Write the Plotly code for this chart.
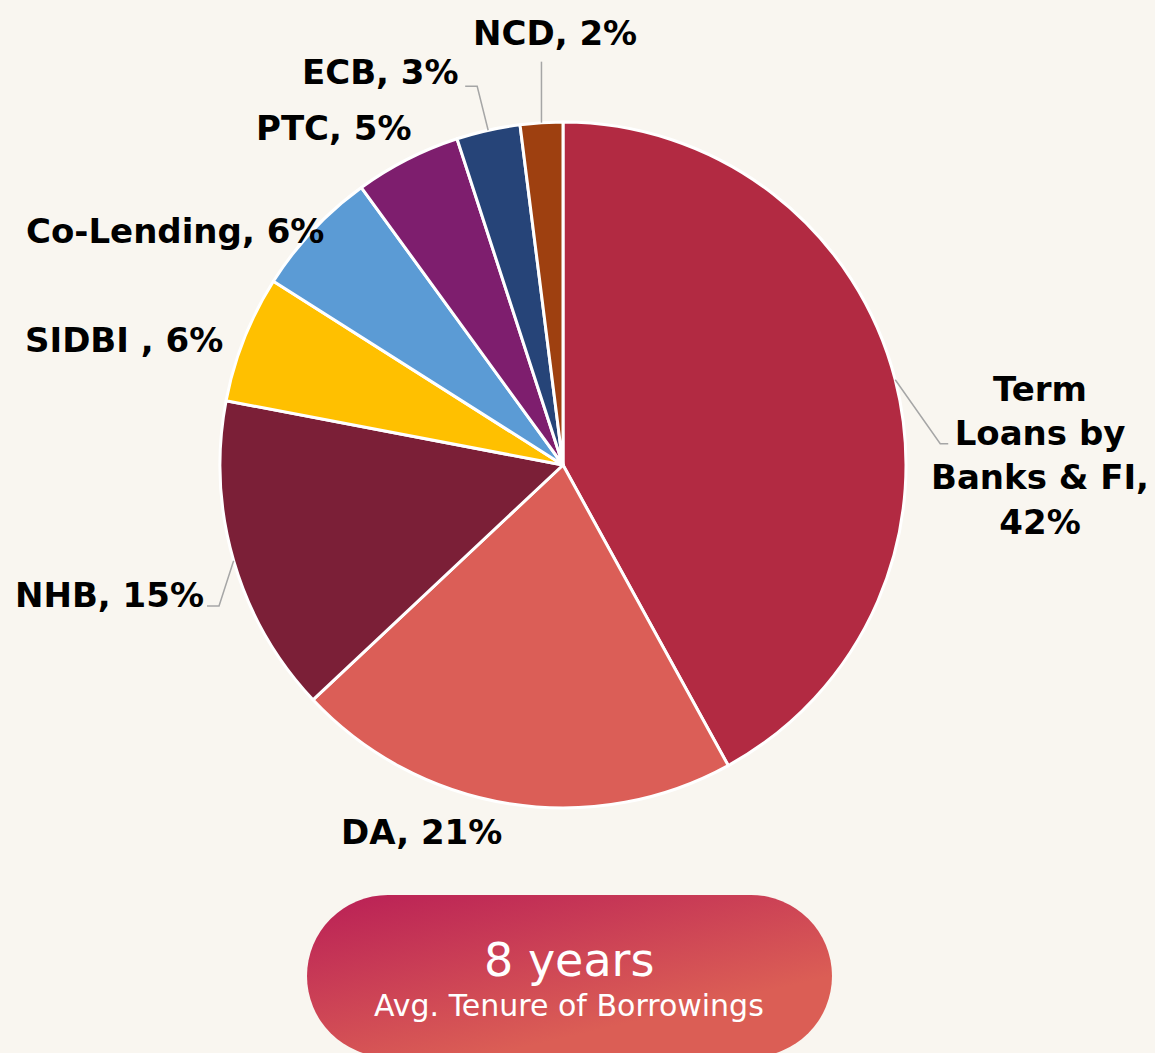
import math
import base64
import plotly.graph_objects as go

# ---------------- data ----------------
categories = ["Term Loans by Banks & FI", "DA", "NHB", "SIDBI ", "Co-Lending", "PTC", "ECB", "NCD"]
shares = [42, 21, 15, 6, 6, 5, 3, 2]
label_names = ["Term<br>Loans by<br>Banks & FI", "DA", "NHB", "SIDBI ", "Co-Lending", "PTC", "ECB", "NCD"]
label_seps = [",<br>", ", ", ", ", ", ", ", ", ", ", ", ", ", "]
badge_value = "8 years"
badge_caption = "Avg. Tenure of Borrowings"

# ---------------- style ----------------
W, H = 1155, 1053
BG = "#F9F6F0"
slice_colors = ["#B22A42", "#DB5E57", "#7B1F37", "#FFC000", "#5B9BD5", "#7E1E6E", "#264478", "#9E4010"]
CX, CY, R = 563, 465, 343  # pie centre / radius in pixels
FONT = "DejaVu Sans"
LABEL_SIZE = 34

# label centre positions (px) and leader-line offsets relative to slice mid-point on the arc
label_pos = {
    "Term Loans by Banks & FI": (1040, 456),
    "DA": (421, 832),
    "NHB": (109, 595),
    "SIDBI ": (124, 340),
    "Co-Lending": (175, 231),
    "PTC": (334, 128),
    "ECB": (380, 72),
    "NCD": (555, 33),
}
leader_offsets = {
    "Term Loans by Banks & FI": [(45, 64), (53, 64)],
    "NHB": [(-14.6, 45.3), (-26.6, 45.3)],
    "ECB": [(-11, -44), (-23, -44)],
    "NCD": [(0, -61)],
}


def px(x):
    return x / W


def py(y):
    return 1 - y / H


fig = go.Figure()
fig.add_trace(go.Pie(
    labels=categories,
    values=shares,
    sort=False,
    direction="clockwise",
    rotation=0,
    marker=dict(colors=slice_colors, line=dict(color="white", width=3)),
    textinfo="none",
    hoverinfo="label+percent",
    showlegend=False,
    domain=dict(x=[px(CX - R), px(CX + R)], y=[py(CY + R), py(CY - R)]),
))

annotations = []
shapes = []
total = sum(shares)
cum = 0
for cat, name, sep, v in zip(categories, label_names, label_seps, shares):
    mid = (cum + v / 2) / total * 2 * math.pi
    cum += v
    ax = CX + R * math.sin(mid)
    ay = CY - R * math.cos(mid)
    lx, ly = label_pos[cat]
    annotations.append(dict(
        x=px(lx), y=py(ly), xref="paper", yref="paper",
        text=f"{name}{sep}{v}%", showarrow=False,
        xanchor="center", yanchor="middle", align="center",
        font=dict(family=FONT, size=LABEL_SIZE, color="#000000", weight="bold"),
    ))
    if cat in leader_offsets:
        pts = [(ax, ay)] + [(ax + dx, ay + dy) for dx, dy in leader_offsets[cat]]
        path = "M " + " L ".join(f"{px(x):.5f},{py(y):.5f}" for x, y in pts)
        shapes.append(dict(type="path", path=path, xref="paper", yref="paper",
                           line=dict(color="#A6A6A6", width=1.5)))

# gradient pill badge
PX0, PY0, PW, PH = 307, 895, 525, 162
svg = f'''<svg xmlns="http://www.w3.org/2000/svg" width="{PW}" height="{PH}" viewBox="0 0 {PW} {PH}">
<defs><linearGradient id="g" x1="0" y1="0" x2="0.75" y2="1">
<stop offset="0" stop-color="#B91F56"/><stop offset="0.8" stop-color="#DB5E55"/></linearGradient></defs>
<rect x="0" y="0" width="{PW}" height="{PH}" rx="{PH/2}" ry="{PH/2}" fill="url(#g)"/></svg>'''
src = "data:image/svg+xml;base64," + base64.b64encode(svg.encode()).decode()

fig.add_layout_image(dict(
    source=src, xref="paper", yref="paper",
    x=px(PX0), y=py(PY0), sizex=PW / W, sizey=PH / H,
    xanchor="left", yanchor="top", sizing="stretch", layer="above",
))

annotations.append(dict(x=px(569), y=py(960), xref="paper", yref="paper", text=badge_value,
                        showarrow=False, xanchor="center", yanchor="middle",
                        font=dict(family=FONT, size=46, color="white")))
annotations.append(dict(x=px(569), y=py(1005), xref="paper", yref="paper", text=badge_caption,
                        showarrow=False, xanchor="center", yanchor="middle",
                        font=dict(family=FONT, size=30, color="white")))

fig.update_layout(
    width=W, height=H,
    margin=dict(l=0, r=0, t=0, b=0),
    paper_bgcolor=BG, plot_bgcolor=BG,
    annotations=annotations, shapes=shapes,
)

fig.write_html(
    "out.html",
    config={"displayModeBar": False},
    post_script="document.body.style.margin='0';document.body.style.overflow='hidden';"
                "document.documentElement.style.background='" + BG + "';",
)
